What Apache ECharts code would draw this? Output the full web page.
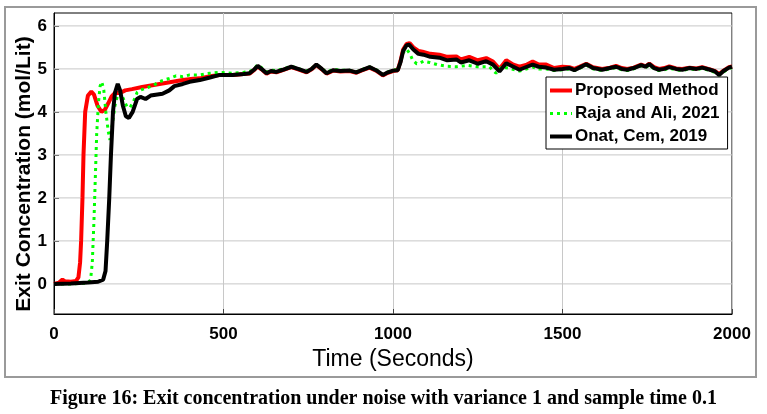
<!DOCTYPE html>
<html>
<head>
<meta charset="utf-8">
<script src="https://cdn.jsdelivr.net/npm/echarts@6/dist/echarts.min.js"></script>
<style>
  html, body { margin: 0; padding: 0; background: #fff; }
  #main { width: 767px; height: 414px; }
</style>
</head>
<body>
<div id="main"></div>
<script>
// [time (s), exit concentration (mol/Lit)]
var proposed = [
  [0,0],[15,0.03],[25,0.1],[33,0.06],[50,0.05],[65,0.07],[72,0.15],[77,0.5],[80,1.0],[84,2.0],[87,3.0],[92,4.0],
  [100,4.38],[110,4.47],[118,4.4],[128,4.15],[140,4.0],[150,4.05],[160,4.2],[170,4.36],[180,4.44],[195,4.44],
  [210,4.5],[230,4.53],[260,4.58],[290,4.62],[320,4.66],[350,4.7],[380,4.74],[410,4.77],[430,4.78],[460,4.83],
  [489,4.86],[527,4.86],[560,4.88],[577,4.89],[590,4.97],[601,5.06],[612,4.99],[627,4.89],[640,4.94],[656,4.92],
  [675,4.97],[700,5.04],[720,4.99],[745,4.92],[760,4.99],[774,5.09],[790,4.99],[804,4.89],[823,4.96],[845,4.94],
  [872,4.95],[892,4.91],[910,4.97],[931,5.03],[950,4.96],[970,4.85],[985,4.91],[1000,4.95],[1014,4.97],[1022,5.18],
  [1030,5.45],[1040,5.58],[1049,5.6],[1060,5.5],[1075,5.42],[1087,5.4],[1110,5.35],[1137,5.33],[1160,5.28],
  [1187,5.29],[1200,5.22],[1225,5.28],[1250,5.2],[1275,5.25],[1295,5.17],[1314,5.0],[1334,5.2],[1355,5.1],
  [1373,5.05],[1395,5.1],[1412,5.17],[1430,5.1],[1452,5.1],[1475,5.02],[1500,5.05],[1520,5.04],[1535,5.0],
  [1550,5.05],[1570,5.12],[1590,5.04],[1617,5.0],[1640,5.03],[1658,5.07],[1675,5.02],[1691,5.0],[1710,5.03],
  [1732,5.1],[1745,5.06],[1756,5.12],[1770,5.04],[1785,5.0],[1800,5.02],[1815,5.06],[1835,5.01],[1853,5.0],
  [1875,5.03],[1895,5.01],[1912,5.04],[1935,4.99],[1950,4.95],[1962,4.88],[1975,4.96],[1991,5.04],[2000,5.06]
];
var rajaAli = [
  [0,0],[50,0],[100,0.02],[108,0.1],[113,0.5],[118,1.5],[122,2.5],[126,3.5],[131,4.2],[136,4.6],[141,4.7],
  [147,4.5],[153,4.0],[160,3.55],[165,3.35],[172,3.7],[180,4.15],[188,4.4],[196,4.45],[205,4.3],[215,4.12],
  [224,4.1],[235,4.25],[245,4.45],[253,4.5],[270,4.55],[290,4.6],[310,4.7],[340,4.78],[360,4.84],[380,4.82],
  [400,4.86],[430,4.86],[460,4.9],[489,4.92],[527,4.9],[560,4.92],[577,4.94],[590,5.0],[601,5.1],[612,5.03],
  [627,4.93],[640,4.97],[656,4.96],[675,5.0],[700,5.06],[720,5.01],[745,4.95],[760,5.01],[774,5.1],[790,5.01],
  [804,4.92],[823,4.99],[845,4.97],[872,4.97],[892,4.93],[910,4.99],[931,5.05],[950,4.98],[970,4.87],[985,4.93],
  [1000,4.97],[1014,4.98],[1022,5.15],[1030,5.38],[1040,5.46],[1050,5.35],[1058,5.2],[1070,5.12],[1078,5.13],
  [1090,5.18],[1108,5.15],[1130,5.1],[1160,5.06],[1187,5.05],[1220,5.08],[1250,5.05],[1284,5.05],[1304,4.9],
  [1320,5.05],[1340,5.02],[1373,4.95],[1395,5.0],[1412,5.04],[1430,5.0],[1452,5.0],[1475,4.96],[1500,4.98],
  [1520,5.0],[1535,4.96],[1550,5.01],[1570,5.09],[1590,5.0],[1617,4.96],[1640,5.0],[1658,5.03],[1675,4.98],
  [1691,4.96],[1710,5.0],[1732,5.07],[1745,5.03],[1756,5.09],[1770,5.0],[1785,4.96],[1800,4.98],[1815,5.02],
  [1835,4.98],[1853,4.96],[1875,5.0],[1895,4.98],[1912,5.01],[1935,4.96],[1950,4.92],[1962,4.85],[1975,4.93],
  [1991,5.01],[2000,5.03]
];
var onatCem = [
  [0,0],[50,0.01],[100,0.03],[130,0.05],[145,0.1],[152,0.3],[157,1.0],[163,2.0],[168,3.0],[174,4.0],[180,4.45],
  [188,4.65],[195,4.5],[203,4.15],[212,3.9],[221,3.86],[232,4.0],[245,4.3],[255,4.35],[270,4.3],[285,4.38],
  [300,4.4],[320,4.42],[340,4.5],[355,4.6],[380,4.65],[400,4.7],[430,4.74],[460,4.8],[489,4.86],[527,4.86],
  [560,4.88],[577,4.9],[590,4.98],[601,5.07],[612,5.0],[627,4.9],[640,4.95],[656,4.93],[675,4.98],[700,5.05],
  [720,5.0],[745,4.93],[760,5.0],[774,5.1],[790,5.0],[804,4.9],[823,4.97],[845,4.95],[872,4.96],[892,4.92],
  [910,4.98],[931,5.04],[950,4.97],[970,4.86],[985,4.92],[1000,4.96],[1014,4.97],[1022,5.15],[1030,5.42],
  [1040,5.55],[1048,5.56],[1060,5.45],[1075,5.35],[1090,5.33],[1110,5.28],[1137,5.26],[1160,5.2],[1187,5.22],
  [1200,5.15],[1225,5.2],[1250,5.12],[1275,5.18],[1295,5.1],[1314,4.94],[1334,5.13],[1355,5.05],[1373,4.98],
  [1395,5.05],[1412,5.1],[1430,5.05],[1452,5.03],[1475,4.98],[1500,5.0],[1520,5.02],[1535,4.97],[1550,5.03],
  [1570,5.11],[1590,5.02],[1617,4.98],[1640,5.02],[1658,5.05],[1675,5.0],[1691,4.98],[1710,5.02],[1732,5.09],
  [1745,5.05],[1756,5.11],[1770,5.02],[1785,4.98],[1800,5.0],[1815,5.04],[1835,5.0],[1853,4.98],[1875,5.02],
  [1895,5.0],[1912,5.03],[1935,4.98],[1950,4.94],[1962,4.86],[1975,4.95],[1991,5.03],[2000,5.05]
];
var yTicks = [0, 1, 2, 3, 4, 5, 6];
var legendNames = ['Proposed Method', 'Raja and Ali, 2021', 'Onat, Cem, 2019'];
var yTitle = 'Exit Concentration (mol/Lit)';
var xTitle = 'Time (Seconds)';
var caption = 'Figure 16: Exit concentration under noise with variance 1 and sample time 0.1';

var myChart = echarts.init(document.getElementById('main'));
var tickFont = {
  fontFamily: 'Liberation Sans, Arial',
  fontWeight: 'bold',
  fontSize: 17,
  color: '#000'
};
var gridColor = '#c8c8c8';

// horizontal grid lines at the y ticks (axis min is -0.7, not a multiple of 1)
var yGridData = yTicks.map(function (v) { return [0, v]; });
function renderYGrid(params, api) {
  var cs = params.coordSys;
  var y = api.coord([0, api.value(1)])[1];
  return {
    type: 'line',
    shape: { x1: cs.x, y1: y, x2: cs.x + cs.width, y2: y },
    style: { stroke: gridColor, lineWidth: 1 },
    silent: true
  };
}

var option = {
  animation: false,
  backgroundColor: '#fff',
  grid: { left: 54, right: 35, top: 13, bottom: 100, show: true, borderColor: '#000', borderWidth: 1 },
  legend: {
    data: [
      { name: legendNames[0], lineStyle: { width: 4 } },
      { name: legendNames[1], lineStyle: { width: 3 } },
      { name: legendNames[2], lineStyle: { width: 4 } }
    ],
    orient: 'vertical',
    left: 546,
    top: 77,
    width: 184,
    itemWidth: 22,
    itemHeight: 12,
    itemGap: 6,
    padding: [5, 8, 4, 2],
    backgroundColor: '#fff',
    borderColor: '#000',
    borderWidth: 1,
    borderRadius: 0,
    itemStyle: { opacity: 0 },
    textStyle: { fontFamily: 'Liberation Sans, Arial', fontWeight: 'bold', fontSize: 17, color: '#000', padding: [0, 0, 0, -2] }
  },
  xAxis: {
    type: 'value',
    min: 0,
    max: 2000,
    interval: 500,
    name: xTitle,
    nameLocation: 'middle',
    nameGap: 34,
    nameTextStyle: { fontFamily: 'Liberation Sans, Arial', fontSize: 23, color: '#000' },
    axisLine: { onZero: false, lineStyle: { color: '#000', width: 1 } },
    axisTick: { inside: true, length: 5, lineStyle: { color: '#444' } },
    axisLabel: Object.assign({ margin: 12, formatter: function (v) { return String(v); } }, tickFont),
    splitLine: { lineStyle: { color: gridColor, width: 1 } }
  },
  yAxis: {
    type: 'value',
    min: -0.7,
    max: 6.3,
    axisLine: { onZero: false, lineStyle: { color: '#000', width: 1 } },
    axisTick: { inside: true, length: 5, customValues: yTicks, lineStyle: { color: '#444' } },
    axisLabel: Object.assign({ margin: 7, customValues: yTicks, formatter: function (v) { return String(v); } }, tickFont),
    splitLine: { show: false }
  },
  graphic: [
    {
      type: 'rect',
      shape: { x: 5, y: 7, width: 751, height: 370 },
      style: { fill: null, stroke: '#9a9a9a', lineWidth: 2 },
      silent: true,
      z: -1
    },
    {
      type: 'text',
      x: 24,
      y: 174,
      rotation: Math.PI / 2,
      style: {
        text: yTitle,
        fontFamily: 'Liberation Sans, Arial, sans-serif',
        fontWeight: 'bold',
        fontSize: 21,
        fill: '#000',
        align: 'center',
        verticalAlign: 'middle'
      },
      silent: true
    },
    {
      type: 'text',
      left: 'center',
      top: 389,
      style: {
        text: caption,
        fontFamily: 'Liberation Serif, Times New Roman, serif',
        fontWeight: 'bold',
        fontSize: 20,
        fill: '#000'
      }
    }
  ],
  series: [
    {
      name: 'yGrid',
      type: 'custom',
      data: yGridData,
      encode: { x: 0, y: 1 },
      renderItem: renderYGrid,
      silent: true,
      z: 1
    },
    {
      name: legendNames[0],
      type: 'line',
      data: proposed,
      symbol: 'none',
      lineStyle: { color: '#ff0000', width: 4 },
      itemStyle: { color: '#ff0000' }
    },
    {
      name: legendNames[1],
      type: 'line',
      data: rajaAli,
      symbol: 'none',
      lineStyle: { color: '#00ff00', width: 3, type: [3, 4] },
      itemStyle: { color: '#00ff00' }
    },
    {
      name: legendNames[2],
      type: 'line',
      data: onatCem,
      symbol: 'none',
      lineStyle: { color: '#000000', width: 4 },
      itemStyle: { color: '#000000' }
    }
  ]
};

myChart.setOption(option);
</script>
</body>
</html>
